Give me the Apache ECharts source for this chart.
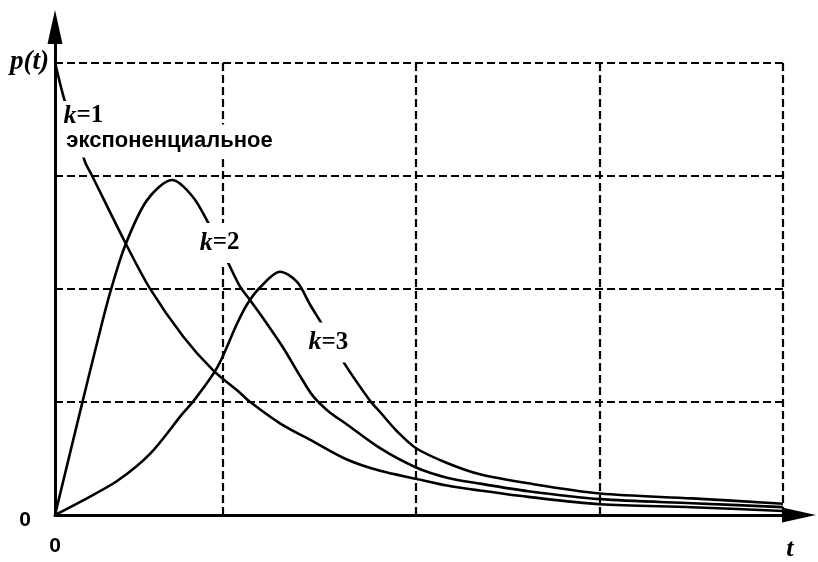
<!DOCTYPE html>
<html>
<head>
<meta charset="utf-8">
<script src="https://cdn.jsdelivr.net/npm/echarts@6/dist/echarts.min.js"></script>
<style>html,body{margin:0;padding:0;background:#fff}#c{width:818px;height:562px}</style>
</head>
<body>
<div id="c"></div>
<script>
// k = 1 (exponential)
const k1T = [0, 0.055, 0.165, 0.203, 0.385, 0.522, 0.703, 0.868, 1.016, 1.071, 1.236, 1.418, 1.604, 1.786, 1.984, 2.154, 2.335, 2.6, 2.995, 3.5, 4.0];
const k1P = [4.0, 3.65, 3.12, 3.0, 2.41, 2.0, 1.58, 1.28, 1.08, 1.0, 0.81, 0.65, 0.49, 0.39, 0.32, 0.26, 0.216, 0.16, 0.095, 0.069, 0.035];
// k = 2
const k2T = [0, 0.148, 0.231, 0.302, 0.385, 0.505, 0.643, 0.758, 0.852, 0.945, 1.016, 1.071, 1.143, 1.253, 1.346, 1.418, 1.5, 1.604, 1.786, 1.984, 2.154, 2.335, 2.6, 2.995, 3.5, 4.0];
const k2P = [0, 0.98, 1.52, 1.96, 2.38, 2.78, 2.96, 2.81, 2.55, 2.25, 2.02, 1.90, 1.74, 1.48, 1.23, 1.05, 0.92, 0.80, 0.59, 0.42, 0.33, 0.277, 0.21, 0.14, 0.104, 0.07];
// k = 3
const k3T = [0, 0.154, 0.341, 0.522, 0.703, 0.758, 0.890, 1.0, 1.055, 1.126, 1.236, 1.330, 1.401, 1.473, 1.582, 1.731, 1.786, 1.879, 1.984, 2.154, 2.335, 2.6, 2.995, 3.5, 4.0];
const k3P = [0, 0.13, 0.30, 0.54, 0.90, 1.0, 1.30, 1.69, 1.86, 2.01, 2.15, 2.06, 1.86, 1.67, 1.36, 1.01, 0.91, 0.74, 0.59, 0.46, 0.36, 0.28, 0.19, 0.147, 0.10];
// dashed grid lines
const gridX = [0.923, 1.984, 2.995, 4.0];
const gridY = [1, 2, 3, 4];
// texts
const yTopLabel = 'p(t)';
const xEndLabel = 't';
const zeroLabel = '0';
const curveLabels = ['k=1', 'k=2', 'k=3'];
const expLabel = 'экспоненциальное';

const zip = (t, p) => t.map((v, i) => [v, p[i]]);
const gridLines = [];
gridX.forEach(x => gridLines.push([{ coord: [x, 0] }, { coord: [x, 4] }]));
gridY.forEach(y => gridLines.push([{ coord: [0, y] }, { coord: [4, y] }]));

const curveStyle = { color: '#000', width: 2.6 };
const serif = "'Liberation Serif', 'Times New Roman', serif";
const sans = "'Liberation Sans', Arial, sans-serif";
const kRich = {
  i: { fontFamily: serif, fontStyle: 'italic', fontWeight: 'bold', fontSize: 26, color: '#000', textBorderWidth: 0 },
  n: { fontFamily: serif, fontWeight: 'bold', fontSize: 25, color: '#000', textBorderWidth: 0 }
};
function kText(s) {
  const parts = s.split('=');
  return '{i|' + parts[0] + '}{n|=' + parts[1] + '}';
}
const boxLabel = {
  show: true, position: [0, 0], align: 'center', verticalAlign: 'middle',
  backgroundColor: '#ffffff', color: '#000', opacity: 1, textBorderWidth: 0
};

const chart = echarts.init(document.getElementById('c'), null, { renderer: 'canvas' });
chart.setOption({
  animation: false,
  backgroundColor: '#fff',
  grid: { left: 55, right: 19, top: 27, bottom: 37, containLabel: false },
  xAxis: {
    type: 'value', min: 0, max: 4.088, interval: 1,
    axisLine: { show: true, onZero: false, lineStyle: { color: '#000', width: 3 }, symbol: ['none', 'triangle'], symbolSize: [15, 34] },
    axisTick: { show: false },
    splitLine: { show: false },
    axisLabel: {
      margin: 21,
      showMaxLabel: false,
      formatter: v => v === 0 ? '{z|' + zeroLabel + '}' : (v === 4 ? '{t|' + xEndLabel + '}' : ''),
      rich: {
        z: { fontFamily: sans, fontWeight: 'bold', fontSize: 21, color: '#000' },
        t: { fontFamily: serif, fontStyle: 'italic', fontWeight: 'bold', fontSize: 26, color: '#000', padding: [0, 0, 0, 14] }
      }
    }
  },
  yAxis: {
    type: 'value', min: 0, max: 4.312, interval: 1,
    axisLine: { show: true, onZero: false, lineStyle: { color: '#000', width: 3 }, symbol: ['none', 'triangle'], symbolSize: [15, 34] },
    axisTick: { show: false },
    splitLine: { show: false },
    axisLabel: {
      margin: 6,
      showMaxLabel: false,
      formatter: v => v === 0 ? '{z|' + zeroLabel + '}' : (v === 4 ? '{p|' + yTopLabel + '}' : ''),
      rich: {
        z: { fontFamily: sans, fontWeight: 'bold', fontSize: 21, color: '#000', padding: [10, 18, 0, 0] },
        p: { fontFamily: serif, fontStyle: 'italic', fontWeight: 'bold', fontSize: 27, color: '#000' }
      }
    }
  },
  series: [
    {
      type: 'line', name: curveLabels[0], data: zip(k1T, k1P), showSymbol: false, smooth: 0.3, z: 3,
      lineStyle: curveStyle,
      markLine: {
        silent: true, symbol: 'none', label: { show: false },
        lineStyle: { color: '#000', width: 2.2, type: [8, 4] },
        data: gridLines
      }
    },
    { type: 'line', name: curveLabels[1], data: zip(k2T, k2P), showSymbol: false, smooth: 0.3, z: 3, lineStyle: curveStyle },
    { type: 'line', name: curveLabels[2], data: zip(k3T, k3P), showSymbol: false, smooth: 0.3, z: 3, lineStyle: curveStyle },
    {
      type: 'scatter', z: 10, symbolSize: 1, itemStyle: { color: '#ffffff', opacity: 1 }, silent: true,
      emphasis: { disabled: true },
      label: boxLabel,
      data: [
        { value: [0.159, 3.53], label: Object.assign({}, boxLabel, { formatter: kText(curveLabels[0]), rich: kRich, padding: [2, 2, 0, 2] }) },
        { value: [0.632, 3.30], label: Object.assign({}, boxLabel, { formatter: expLabel, fontFamily: sans, fontWeight: 'bold', fontSize: 22, padding: [5, 3, 6, 3] }) },
        { value: [0.907, 2.40], label: Object.assign({}, boxLabel, { formatter: kText(curveLabels[1]), rich: kRich, padding: [7, 3, 7, 3] }) },
        { value: [1.505, 1.52], label: Object.assign({}, boxLabel, { formatter: kText(curveLabels[2]), rich: kRich, padding: [7, 3, 7, 3] }) }
      ]
    }
  ]
});
</script>
</body>
</html>
